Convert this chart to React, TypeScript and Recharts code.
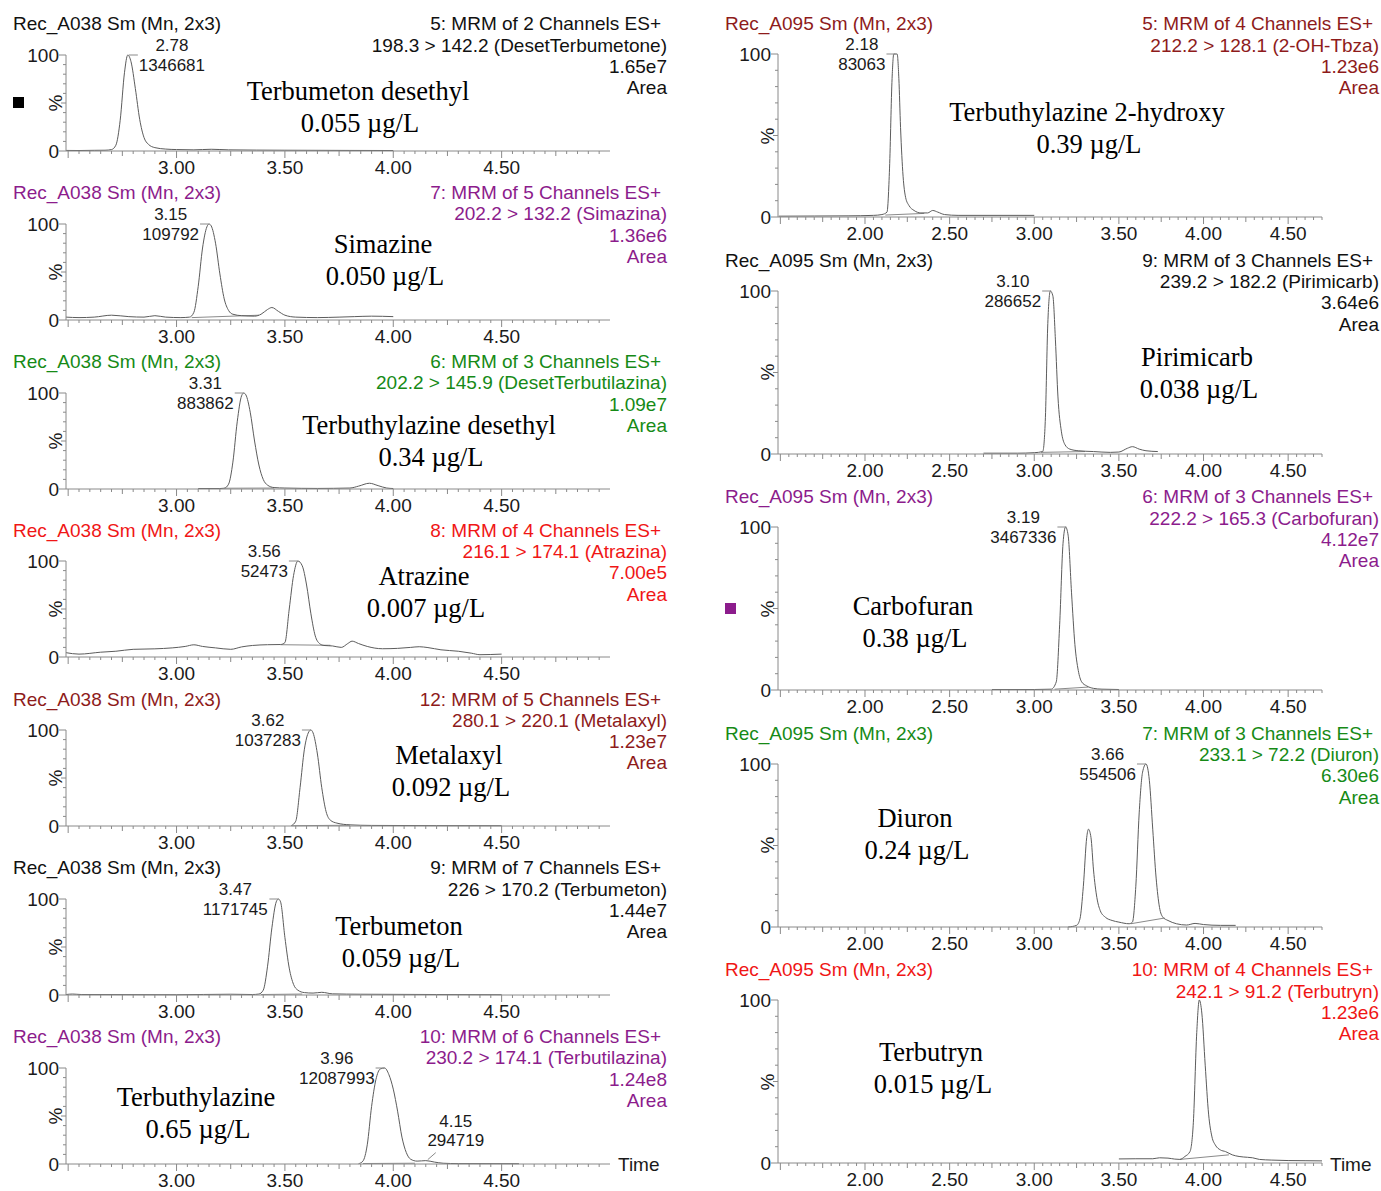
import React from 'react';
import { LineChart, Line, XAxis, YAxis, ReferenceDot } from 'recharts';

const SANS = '"Liberation Sans", Arial, sans-serif';
const SERIF = '"Liberation Serif", "Times New Roman", serif';
const INK = '#1a1a1a';
const AXIS = '#8a8a8a';
const TRACE = '#5c5c5c';

const BLACK = '#111111';
const PURPLE = '#8c1c8c';
const GREEN = '#168a16';
const RED = '#f01616';
const MAROON = '#8e1b1b';

// header texts, one entry per panel (7 left, then 5 right)
const sampleNames = [
  'Rec_A038 Sm (Mn, 2x3)', 'Rec_A038 Sm (Mn, 2x3)', 'Rec_A038 Sm (Mn, 2x3)', 'Rec_A038 Sm (Mn, 2x3)',
  'Rec_A038 Sm (Mn, 2x3)', 'Rec_A038 Sm (Mn, 2x3)', 'Rec_A038 Sm (Mn, 2x3)',
  'Rec_A095 Sm (Mn, 2x3)', 'Rec_A095 Sm (Mn, 2x3)', 'Rec_A095 Sm (Mn, 2x3)', 'Rec_A095 Sm (Mn, 2x3)',
  'Rec_A095 Sm (Mn, 2x3)',
];
const functionLines = [
  '5: MRM of 2 Channels ES+', '7: MRM of 5 Channels ES+', '6: MRM of 3 Channels ES+',
  '8: MRM of 4 Channels ES+', '12: MRM of 5 Channels ES+', '9: MRM of 7 Channels ES+',
  '10: MRM of 6 Channels ES+', '5: MRM of 4 Channels ES+', '9: MRM of 3 Channels ES+',
  '6: MRM of 3 Channels ES+', '7: MRM of 3 Channels ES+', '10: MRM of 4 Channels ES+',
];
const transitions = [
  '198.3 > 142.2 (DesetTerbumetone)', '202.2 > 132.2 (Simazina)', '202.2 > 145.9 (DesetTerbutilazina)',
  '216.1 > 174.1 (Atrazina)', '280.1 > 220.1 (Metalaxyl)', '226 > 170.2 (Terbumeton)',
  '230.2 > 174.1 (Terbutilazina)', '212.2 > 128.1 (2-OH-Tbza)', '239.2 > 182.2 (Pirimicarb)',
  '222.2 > 165.3 (Carbofuran)', '233.1 > 72.2 (Diuron)', '242.1 > 91.2 (Terbutryn)',
];
const intensities = ['1.65e7', '1.36e6', '1.09e7', '7.00e5', '1.23e7', '1.44e7', '1.24e8', '1.23e6', '3.64e6', '4.12e7', '6.30e6', '1.23e6'];
const headerColors = [BLACK, PURPLE, GREEN, RED, MAROON, BLACK, PURPLE, MAROON, BLACK, PURPLE, GREEN, RED];

const compounds = [
  'Terbumeton desethyl', 'Simazine', 'Terbuthylazine desethyl', 'Atrazine', 'Metalaxyl', 'Terbumeton',
  'Terbuthylazine', 'Terbuthylazine 2-hydroxy', 'Pirimicarb', 'Carbofuran', 'Diuron', 'Terbutryn',
];
const concentrations = [
  '0.055 µg/L', '0.050 µg/L', '0.34 µg/L', '0.007 µg/L', '0.092 µg/L', '0.059 µg/L',
  '0.65 µg/L', '0.39 µg/L', '0.038 µg/L', '0.38 µg/L', '0.24 µg/L', '0.015 µg/L',
];

// apex annotations
const peakTimes = [2.78, 3.15, 3.31, 3.56, 3.62, 3.47, 3.96, 2.18, 3.10, 3.19, 3.66, null];
const peakAreas = ['1346681', '109792', '883862', '52473', '1037283', '1171745', '12087993', '83063', '286652', '3467336', '554506', null];
const minorPeak = { panel: 6, time: 4.15, level: 3.5, area: '294719' };

// axis labels
const leftTickLabels = ['3.00', '3.50', '4.00', '4.50'];
const rightTickLabels = ['2.00', '2.50', '3.00', '3.50', '4.00', '4.50'];
const yTicks = [0, 10, 20, 30, 40, 50, 60, 70, 80, 90, 100];
const yTickLabels = ['0', '100'];

// traces: [time (min), intensity (%)]
const tDesetTerbumeton = [[2.49, 0.6], [2.55, 0.5], [2.62, 0.7], [2.67, 0.8], [2.70, 1.5], [2.72, 6], [2.74, 32], [2.76, 82], [2.775, 100], [2.79, 93], [2.81, 65], [2.83, 33], [2.85, 14], [2.87, 7], [2.90, 3.5], [2.95, 2], [3.00, 1.5], [3.08, 1.2], [3.16, 1.8], [3.24, 1.2], [3.50, 0.8], [3.80, 0.6], [4.00, 0.5]];
const tSimazine = [[2.49, 3], [2.55, 2.5], [2.62, 3], [2.70, 5], [2.78, 3.5], [2.85, 3], [2.90, 4.5], [2.95, 3], [3.02, 2.5], [3.06, 3], [3.08, 8], [3.10, 35], [3.12, 75], [3.14, 97], [3.15, 100], [3.16, 98], [3.18, 80], [3.20, 48], [3.22, 22], [3.24, 10], [3.26, 6], [3.30, 4.5], [3.36, 4], [3.39, 6], [3.42, 11], [3.44, 13], [3.47, 9], [3.50, 5], [3.55, 3], [3.65, 2.5], [3.75, 3], [3.82, 3.5], [3.90, 4], [4.00, 3.5]];
const tDesetTerbutilazina = [[3.10, 0.5], [3.20, 0.5], [3.22, 0.8], [3.24, 5], [3.26, 28], [3.28, 70], [3.30, 97], [3.31, 100], [3.32, 98], [3.34, 80], [3.36, 50], [3.38, 25], [3.40, 10], [3.42, 4], [3.45, 1.5], [3.50, 1], [3.65, 0.6], [3.80, 1], [3.84, 3], [3.89, 6], [3.93, 3.5], [3.97, 1], [4.00, 0.5]];
const tAtrazine = [[2.49, 4.5], [2.55, 3], [2.65, 5], [2.72, 6], [2.80, 8], [2.90, 8.5], [2.98, 9.5], [3.04, 11], [3.08, 12.7], [3.12, 11], [3.18, 9.5], [3.25, 8], [3.30, 10.5], [3.35, 12], [3.42, 12.8], [3.48, 13], [3.50, 15], [3.52, 50], [3.54, 85], [3.56, 100], [3.58, 95], [3.60, 75], [3.62, 45], [3.64, 22], [3.66, 14], [3.68, 12], [3.72, 11.5], [3.76, 10], [3.79, 14], [3.81, 16.5], [3.84, 14], [3.88, 11], [3.95, 8.6], [4.02, 9], [4.08, 10], [4.12, 10.7], [4.16, 9.8], [4.22, 7.5], [4.30, 6], [4.36, 4], [4.40, 2.4], [4.45, 2.6], [4.50, 3]];
const tMetalaxyl = [[3.53, 0.5], [3.55, 5], [3.57, 40], [3.59, 80], [3.61, 98], [3.62, 100], [3.63, 97], [3.65, 75], [3.67, 40], [3.69, 15], [3.71, 6], [3.74, 3], [3.80, 1.2], [3.90, 0.6], [4.20, 0.4], [4.50, 0.3]];
const tTerbumeton = [[2.49, 0.5], [2.52, 1], [2.56, 0.5], [3.00, 0.3], [3.25, 0.8], [3.35, 0.5], [3.38, 1], [3.40, 5], [3.42, 30], [3.44, 70], [3.46, 97], [3.47, 100], [3.48, 97], [3.50, 60], [3.52, 28], [3.54, 11], [3.56, 5], [3.59, 2.5], [3.63, 2], [3.67, 2.8], [3.72, 1.2], [3.85, 0.8], [4.20, 0.5], [4.50, 0.3]];
const tTerbutilazina = [[3.84, 0.3], [3.86, 3], [3.88, 20], [3.90, 60], [3.92, 88], [3.94, 99], [3.96, 100], [3.98, 93], [4.00, 78], [4.02, 55], [4.04, 28], [4.06, 12], [4.08, 5], [4.11, 3], [4.15, 3.5], [4.19, 2], [4.23, 0.8], [4.30, 0.4], [4.58, 0.3]];
const tHydroxyTbza = [[1.49, 0.5], [1.70, 0.6], [1.90, 0.7], [2.05, 1], [2.10, 1.5], [2.13, 3], [2.145, 30], [2.16, 85], [2.17, 100], [2.19, 100], [2.20, 85], [2.21, 55], [2.225, 25], [2.24, 12], [2.26, 7], [2.29, 4], [2.33, 2.5], [2.37, 2.5], [2.40, 4], [2.43, 3], [2.47, 1.5], [2.55, 1], [3.00, 1]];
const tPirimicarb = [[2.70, 0.5], [2.90, 0.5], [3.00, 0.8], [3.05, 1.5], [3.065, 20], [3.08, 80], [3.095, 100], [3.11, 97], [3.125, 70], [3.14, 35], [3.16, 14], [3.18, 6], [3.21, 3], [3.26, 2], [3.35, 1.5], [3.45, 1], [3.50, 1.2], [3.55, 3.5], [3.58, 4.5], [3.62, 3], [3.66, 2], [3.73, 1.5]];
const tCarbofuran = [[2.75, 0.3], [3.00, 0.3], [3.10, 0.5], [3.13, 5], [3.15, 40], [3.17, 90], [3.185, 100], [3.20, 95], [3.22, 60], [3.24, 28], [3.26, 12], [3.28, 5], [3.31, 2.5], [3.35, 1], [3.40, 0.5], [3.50, 0.3]];
const tDiuron = [[3.20, 0], [3.25, 1], [3.27, 5], [3.29, 25], [3.31, 55], [3.32, 60], [3.335, 55], [3.35, 35], [3.37, 18], [3.39, 10], [3.42, 6], [3.46, 4], [3.50, 3], [3.56, 2], [3.58, 3], [3.60, 25], [3.62, 70], [3.64, 95], [3.66, 100], [3.68, 90], [3.70, 60], [3.72, 30], [3.74, 12], [3.76, 6], [3.79, 4], [3.84, 2], [3.90, 1.2], [3.95, 2.2], [4.00, 1.5], [4.10, 1], [4.19, 1]];
const tTerbutryn = [[3.50, 2.5], [3.60, 2.6], [3.70, 2.6], [3.74, 3.2], [3.79, 3], [3.83, 2.4], [3.86, 2.2], [3.89, 4], [3.92, 7], [3.94, 25], [3.96, 80], [3.975, 100], [3.99, 92], [4.01, 60], [4.03, 30], [4.05, 16], [4.07, 11], [4.10, 8], [4.13, 7], [4.17, 5], [4.21, 4], [4.26, 3.5], [4.29, 3.2], [4.33, 2.2], [4.40, 1.8], [4.50, 1.5], [4.60, 1.4], [4.70, 1.3]];

const traces = [tDesetTerbumeton, tSimazine, tDesetTerbutilazina, tAtrazine, tMetalaxyl, tTerbumeton, tTerbutilazina, tHydroxyTbza, tPirimicarb, tCarbofuran, tDiuron, tTerbutryn];

// integration baselines under the labelled peaks
const baselines = [
  null, [[3.07, 2.5], [3.38, 5]], [[3.22, 0.8], [3.45, 1]], [[3.48, 12.8], [3.71, 12.2]], [[3.53, 0.3], [3.80, 0.8]],
  [[3.39, 0.5], [3.58, 1]], [[3.86, 0.5], [4.10, 0.8]], [[2.12, 1.2], [2.35, 2.2]], [[3.04, 1], [3.30, 1.5]],
  [[3.12, 0.5], [3.32, 1.8]], [[3.57, 2], [3.77, 5.5]], [[3.86, 2.2], [4.15, 5]],
];

// layout (page coordinates)
const nameCenters = [[358, 91], [383, 244], [429, 425], [424, 576], [449, 755], [399, 926], [196, 1097], [1087, 112], [1197, 357], [913, 606], [915, 818], [931, 1052]];
const labelSide = [1, -1, -1, -1, -1, -1, -1, -1, -1, -1, -1, -1];

const toPts = (a: number[][]) => a.map(([t, v]) => ({ t, v }));
const stepTicks = (from: number, n: number) => Array.from({ length: n }, (_, j) => Math.round((from + j * 0.05) * 100) / 100);
const leftTicks = stepTicks(2.5, 50);
const rightTicks = stepTicks(1.5, 65);

const makeXTick = (labels: string[]) => (p: any) => {
  const v: number = p.payload.value;
  const s = v.toFixed(2);
  const h = Math.round(v * 100);
  const len = h % 50 === 0 ? 7 : h % 25 === 0 ? 5 : 3;
  return (
    <g>
      <line x1={p.x} x2={p.x} y1={p.y} y2={p.y + len} stroke={AXIS} />
      {labels.includes(s) && (
        <text x={p.x} y={p.y + 23} textAnchor="middle" fontSize={19} fontFamily={SANS} fill={INK}>{s}</text>
      )}
    </g>
  );
};

const YTick = (p: any) => {
  const v: number = p.payload.value;
  const len = v === 0 || v === 100 ? 7 : v === 50 ? 5 : 3;
  return (
    <g>
      <line x1={p.x - len} x2={p.x} y1={p.y} y2={p.y} stroke={AXIS} />
      {yTickLabels.includes(String(v)) && (
        <text x={p.x - len} y={p.y + 6.5} textAnchor="end" fontSize={19} fontFamily={SANS} fill={INK}>{v}</text>
      )}
    </g>
  );
};

const PeakLabel = ({ cx, cy, rt, area, side }: any) => {
  const w = area.length * 9.45;
  const c = cx + side * (10 + w / 2);
  return (
    <g>
      <line x1={cx} x2={cx + side * 9} y1={cy} y2={cy} stroke={AXIS} />
      <text x={c} y={cy - 4} textAnchor="middle" fontSize={17} fontFamily={SANS} fill={INK}>{rt}</text>
      <text x={c} y={cy + 16} textAnchor="middle" fontSize={17} fontFamily={SANS} fill={INK}>{area}</text>
    </g>
  );
};

const MinorLabel = ({ cx, cy, rt, area }: any) => (
  <g>
    <line x1={cx + 2} x2={cx + 10} y1={cy - 1} y2={cy - 8} stroke={AXIS} />
    <text x={cx + 30} y={cy - 34} textAnchor="middle" fontSize={17} fontFamily={SANS} fill={INK}>{rt}</text>
    <text x={cx + 30} y={cy - 15} textAnchor="middle" fontSize={17} fontFamily={SANS} fill={INK}>{area}</text>
  </g>
);

function Panel({ i }: { i: number }) {
  const left = i < 7;
  const k = left ? i : i - 7;
  const y100 = left ? 55 + 168.8 * k : 54 + 236.5 * k;
  const plotH = left ? 96 : 163;
  const chartX = left ? 0 : 700;
  const axisW = left ? 66 : 78;
  const chartW = left ? 630 : 642;
  const colL = left ? 13 : 725;
  const colR = left ? 667 : 1379;
  const top = 22;
  const xh = 30;
  const color = headerColors[i];
  const pt = peakTimes[i];
  const base = baselines[i];
  const headTop = y100 - (left ? 31 : 30) - 10.65;
  const hdr: React.CSSProperties = { position: 'absolute', whiteSpace: 'nowrap', fontFamily: SANS, fontSize: 19, lineHeight: '21.3px', color };
  const big: React.CSSProperties = { position: 'absolute', transform: 'translate(-50%, -50%)', fontFamily: SERIF, fontSize: 26.5, lineHeight: 1, whiteSpace: 'nowrap', color: '#000' };

  return (
    <>
      <div style={{ ...hdr, left: colL, top: headTop }}>{sampleNames[i]}</div>
      <div style={{ ...hdr, right: 1381 - colR, top: headTop, textAlign: 'right' }}>
        <div style={{ marginRight: 6 }}>{functionLines[i]}</div>
        <div>{transitions[i]}</div>
        <div>{intensities[i]}</div>
        <div>Area</div>
      </div>
      <div style={{ position: 'absolute', left: chartX + axisW - 11, top: y100 + plotH / 2, transform: 'translate(-50%, -50%) rotate(-90deg)', fontFamily: SANS, fontSize: 19, color: INK, lineHeight: 1 }}>%</div>
      <div style={{ position: 'absolute', left: chartX, top: y100 - top }}>
        <LineChart width={chartW} height={top + plotH + xh} margin={{ top, right: 20, bottom: 0, left: 0 }}>
          <XAxis
            dataKey="t" type="number" domain={left ? [2.49, 5.0] : [1.486, 4.7]} allowDataOverflow
            ticks={left ? leftTicks : rightTicks} interval={0} height={xh} tickSize={0} tickMargin={0}
            tickLine={false} axisLine={{ stroke: AXIS }} tick={makeXTick(left ? leftTickLabels : rightTickLabels)}
          />
          <YAxis
            type="number" domain={[0, 100]} ticks={yTicks} interval={0} width={axisW} tickSize={0} tickMargin={0}
            tickLine={false} axisLine={{ stroke: AXIS }} tick={YTick}
          />
          {base && (
            <Line data={toPts(base)} dataKey="v" type="linear" stroke={AXIS} strokeWidth={1} dot={false} isAnimationActive={false} />
          )}
          <Line data={toPts(traces[i])} dataKey="v" type="monotone" stroke={TRACE} strokeWidth={1} dot={false} isAnimationActive={false} />
          {pt !== null && (
            <ReferenceDot x={pt} y={100} r={0} ifOverflow="visible"
              shape={(p: any) => <PeakLabel cx={p.cx} cy={p.cy} rt={pt.toFixed(2)} area={peakAreas[i]} side={labelSide[i]} />} />
          )}
          {minorPeak.panel === i && (
            <ReferenceDot x={minorPeak.time} y={minorPeak.level} r={0} ifOverflow="visible"
              shape={(p: any) => <MinorLabel cx={p.cx} cy={p.cy} rt={minorPeak.time.toFixed(2)} area={minorPeak.area} />} />
          )}
        </LineChart>
      </div>
      <div style={{ ...big, left: nameCenters[i][0], top: nameCenters[i][1] }}>{compounds[i]}</div>
      <div style={{ ...big, left: nameCenters[i][0] + 2, top: nameCenters[i][1] + 32 }}>{concentrations[i]}</div>
    </>
  );
}

export default function App() {
  return (
    <div style={{ position: 'absolute', left: 0, top: 0, width: 1381, height: 1191, background: '#fff', overflow: 'hidden' }}>
      {compounds.map((_, i) => <Panel key={i} i={i} />)}
      <div style={{ position: 'absolute', left: 13, top: 97, width: 11, height: 11, background: '#000' }} />
      <div style={{ position: 'absolute', left: 725, top: 603, width: 11, height: 11, background: PURPLE }} />
      <div style={{ position: 'absolute', left: 618, top: 1154, fontFamily: SANS, fontSize: 19, lineHeight: '21px', color: INK }}>Time</div>
      <div style={{ position: 'absolute', left: 1330, top: 1154, fontFamily: SANS, fontSize: 19, lineHeight: '21px', color: INK }}>Time</div>
    </div>
  );
}
